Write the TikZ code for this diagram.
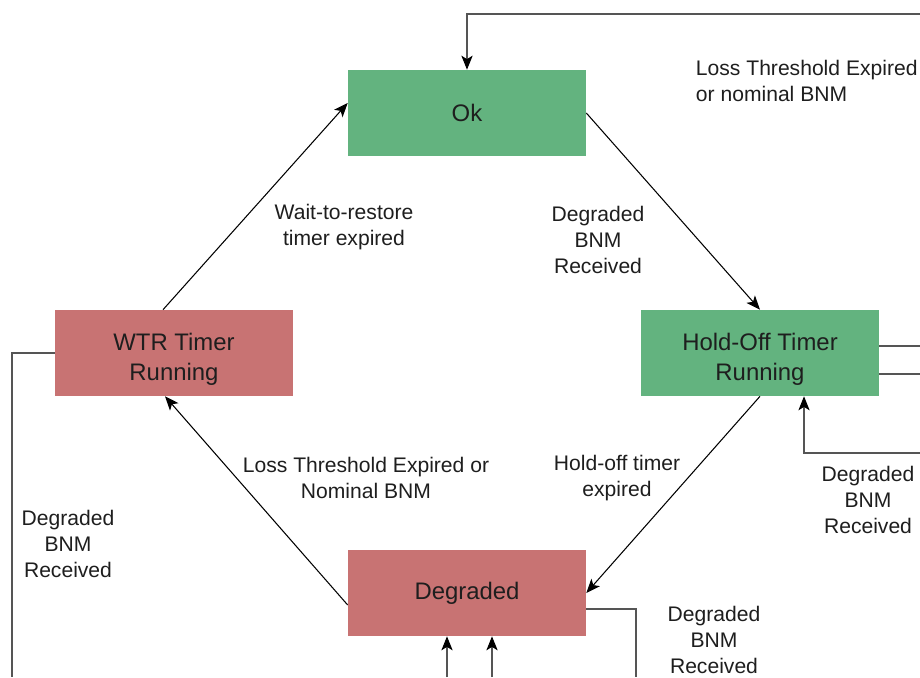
\documentclass[tikz,border=0pt]{standalone}
\usepackage{fontspec}
\setmainfont{Liberation Sans}
\usetikzlibrary{arrows.meta}
\definecolor{okgreen}{RGB}{99,179,127}
\definecolor{badred}{RGB}{200,115,115}
\definecolor{wire}{RGB}{85,85,85}
\definecolor{ink}{RGB}{30,30,30}

\tikzset{
  state/.style={minimum width=5.95cm, minimum height=2.15cm, inner sep=0pt,
    align=center, text=ink, font=\fontsize{17}{21.5}\selectfont},
  good/.style={state, fill=okgreen},
  bad/.style={state, fill=badred},
  lbl/.style={align=center, text=ink, font=\fontsize{15}{18.5}\selectfont},
  wire/.style={draw=wire, line width=0.75pt},
  arr/.style={wire, -{Stealth[length=10pt,width=8pt,inset=2.5pt,color=black]}},
}
\newcommand{\lowtop}{\rule{0pt}{21pt}}

\begin{document}
\begin{tikzpicture}[x=0.025cm, y=-0.025cm]
  \useasboundingbox (0,0) rectangle (920,677);

  % states
  \node[good] (ok)   at (467,113) {Ok};
  \node[good] (hold) at (760,353) {\lowtop Hold-Off Timer\\Running};
  \node[bad]  (wtr)  at (174,353) {\lowtop WTR Timer\\Running};
  \node[bad]  (deg)  at (467,593) {Degraded};

  % loose ends at the picture edge
  \coordinate (topr)  at (920,14);
  \coordinate (holdr) at (920,453);
  \coordinate (wtrl)  at (12,677);
  \coordinate (degr)  at (636,677);
  \coordinate (degb1) at (447,677);
  \coordinate (degb2) at (492,677);

  % transitions
  \draw[arr, draw=black] (ok.east) -- (hold.north);
  \draw[arr, draw=black] (hold.south) -- (deg.east);
  \draw[arr, draw=black] ([yshift=-0.3cm]deg.west) -- ([xshift=-0.225cm]wtr.south);
  \draw[arr, draw=black] ([xshift=-0.275cm]wtr.north) -- ([yshift=0.25cm]ok.west);
  \draw[arr] (topr) -| (ok.north);
  \draw[arr] (holdr) -| ([xshift=1.1cm]hold.south);
  \draw[wire] ([yshift=0.175cm]hold.east) -- ++(41,0);
  \draw[wire] ([yshift=-0.525cm]hold.east) -- ++(41,0);
  \draw[wire] (wtr.west) -| (wtrl);
  \draw[wire] ([yshift=-0.4cm]deg.east) -| (degr);
  \draw[arr] (degb1) -- (degb1 |- deg.south);
  \draw[arr] (degb2) -- (degb2 |- deg.south);

  % labels
  \node[lbl, align=left, anchor=west] (ltop) at (691,81) {Loss Threshold Expired\\or nominal BNM};
  \node[lbl] (ldeg1) at (598,240) {Degraded\\BNM\\Received};
  \node[lbl] (lwait) at (344,227) {Wait-to-restore\\timer expired};
  \node[lbl] (lhold) at (617,478) {Hold-off timer\\expired};
  \node[lbl] (lloss) at (366,478) {Loss Threshold Expired or\\Nominal BNM};
  \node[lbl] (ldeg2) at (868,500) {Degraded\\BNM\\Received};
  \node[lbl] (ldeg3) at (68,544)  {Degraded\\BNM\\Received};
  \node[lbl] (ldeg4) at (714,640) {Degraded\\BNM\\Received};
\end{tikzpicture}
\end{document}
